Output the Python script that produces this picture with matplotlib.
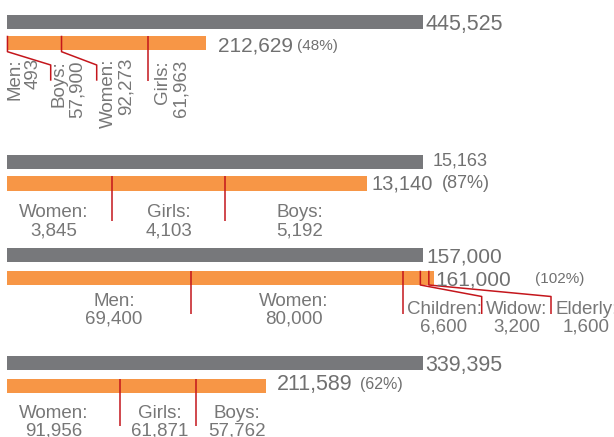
import numpy as np
import matplotlib
matplotlib.use("Agg")
import matplotlib.pyplot as plt

plt.rcParams['font.family'] = ['Liberation Sans', 'DejaVu Sans']

# target (gray) vs reached (orange), one block per row
targets = [445525, 15163, 157000, 339395]
reached = [212629, 13140, 161000, 211589]
pct_labels = ["(48%)", "(87%)", "(102%)", "(62%)"]

# breakdown of the reached number
groups = [
    ["Men", "Boys", "Women", "Girls"],
    ["Women", "Girls", "Boys"],
    ["Men", "Women", "Children", "Widow", "Elderly"],
    ["Women", "Girls", "Boys"],
]
group_values = [
    [493, 57900, 92273, 61963],
    [3845, 4103, 5192],
    [69400, 80000, 6600, 3200, 1600],
    [91956, 61871, 57762],
]

GRAY = '#77787b'
ORANGE = '#f79646'
RED = '#c4161c'
TXT = '#777777'
NUM = '#707070'

# layout, in pixels of the 614x437 picture
X0, W = 7, 416
def px(x):
    return (x - X0) / W

bar_h = 14.5
gray_y = [22, 162, 255, 363]
orange_y = [43, 183.5, 278, 386]
gray_txt_y = [21.7, 159.2, 254.7, 363]
orange_txt_y = [44.2, 182.5, 278.3, 382.2]
gray_gap = [2, 10, 3, 2]
orange_gap = [12.5, 4.5, 1.5, 10.7]
gray_size = [15.5, 13, 15, 15.5]
orange_size = [15, 14.5, 15, 15.5]
pct_x = [297, 442, 535, 360]
pct_y = [46, 183.3, 279, 384]
pct_size = [11, 13, 11, 11.5]

label_x = [[24, 68, 117, 172], [54, 169, 300], [114, 294, 444, 517, 586.5], [54, 160, 237]]
label_top = [[58, 60, 58, 60], [204] * 3, [292.5, 292.5, 300.7, 300.7, 300.7], [405] * 3]
label_rot = [90, 0, 0, 0]
label_ls = [1.08, 1.08, 1.08, 1.02]
# leader lines from each divider: None = straight down
leader_to = [[50.7, 96.7, None], [None, None], [None, None, 481.7, 551], [None, None]]
leader_knee = [51.7, None, 285, None]
leader_slant = [65, None, 296.5, None]
leader_bottom = [80.7, 221, 314, 426]

fig = plt.figure(figsize=(6.14, 4.37), dpi=100)
ax = fig.add_axes([0, 0, 1, 1])
ax.set_xlim(px(0), px(614))
ax.set_ylim(437, 0)
ax.axis('off')

for i in range(len(targets)):
    t = targets[i]
    ax.barh(gray_y[i], t / t, height=bar_h, left=0, color=GRAY)
    ax.barh(orange_y[i], reached[i] / t, height=bar_h, left=0, color=ORANGE)

    ax.annotate(f"{t:,}", xy=(1.0, gray_txt_y[i]), xytext=(gray_gap[i], 0),
                textcoords='offset pixels', ha='left', va='center_baseline',
                fontsize=gray_size[i], color=NUM)
    ax.annotate(f"{reached[i]:,}", xy=(reached[i] / t, orange_txt_y[i]),
                xytext=(orange_gap[i], 0), textcoords='offset pixels',
                ha='left', va='center_baseline', fontsize=orange_size[i], color=NUM)
    ax.text(px(pct_x[i]), pct_y[i], pct_labels[i], ha='left', va='center',
            fontsize=pct_size[i], color=NUM)

    # dividers between the groups
    cum = np.cumsum(group_values[i])[:-1] / t
    top = orange_y[i] - bar_h / 2
    for xd, lt in zip(cum, leader_to[i]):
        if lt is None:
            ax.plot([xd, xd], [top, leader_bottom[i]], color=RED, lw=1.1,
                    solid_capstyle='butt')
        else:
            ax.plot([xd, xd, px(lt), px(lt)],
                    [top, leader_knee[i], leader_slant[i], leader_bottom[i]],
                    color=RED, lw=1.1, solid_capstyle='butt')

    for name, v, lx, ly in zip(groups[i], group_values[i], label_x[i], label_top[i]):
        ax.text(px(lx), ly, f"{name}:\n{v:,}", rotation=label_rot[i],
                ha='center', va='top', multialignment='right' if label_rot[i] else 'center',
                fontsize=13.5, color=TXT, linespacing=label_ls[i])

fig.savefig('out.png', dpi=100)
